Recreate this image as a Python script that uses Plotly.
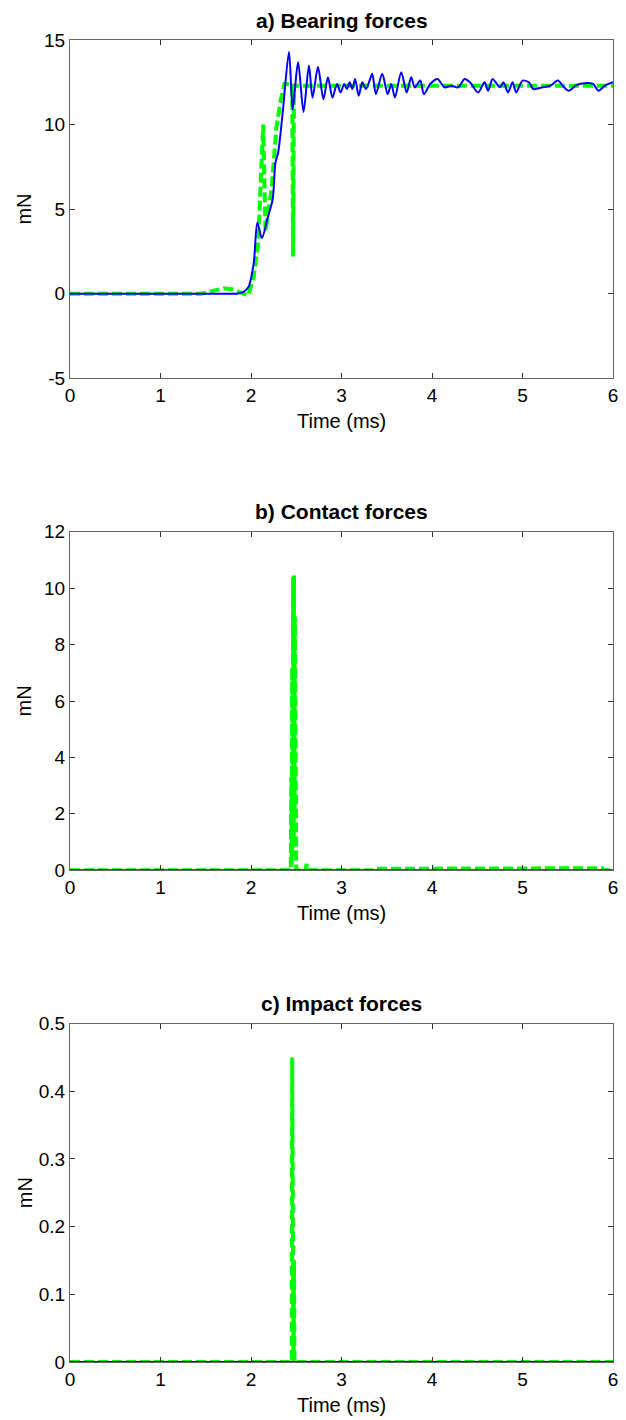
import plotly.graph_objects as go

# ---------------- data ----------------
# a) Bearing forces
bear_blue_t = [0, 0.5, 1.0, 1.5, 1.75, 1.86, 1.92, 1.97, 2.03, 2.07, 2.12, 2.19, 2.24, 2.27, 2.30,
               2.35, 2.42, 2.46, 2.52,
               2.58, 2.64, 2.68, 2.74, 2.80, 2.85, 2.90, 2.95, 2.99, 3.03, 3.06, 3.09, 3.12,
               3.15, 3.19, 3.23, 3.27, 3.31, 3.34, 3.38, 3.45, 3.51, 3.55, 3.59, 3.66, 3.72,
               3.77, 3.81, 3.87, 3.91, 3.98, 4.06, 4.14, 4.21, 4.29, 4.36, 4.42, 4.51, 4.58,
               4.62, 4.67, 4.75, 4.79, 4.84, 4.89, 4.93, 5.00, 5.07, 5.12, 5.22, 5.31, 5.39,
               5.46, 5.51, 5.60, 5.69, 5.78, 5.84, 5.91, 6.0]
bear_blue_v = [0, 0, 0, 0, 0, 0.02, 0.12, 0.38, 1.8, 4.2, 3.3, 4.6, 5.6, 7.75, 8.35,
               10.7, 14.3, 10.9, 13.7,
               10.75, 13.5, 11.6, 13.4, 11.5, 12.8, 11.6, 12.4, 11.9, 12.4, 12.1, 12.5, 12.1,
               12.7, 11.7, 12.5, 12.1, 12.6, 13.0, 11.8, 13.0, 11.8, 12.4, 11.6, 13.1, 11.9,
               12.8, 12.2, 12.6, 11.8, 12.4, 12.7, 12.2, 12.3, 12.2, 12.7, 12.5, 11.9, 12.5,
               12.0, 12.7, 12.2, 12.5, 11.9, 12.5, 11.9, 12.6, 12.5, 12.1, 12.2, 12.3, 12.6,
               12.2, 12.0, 12.35, 12.45, 12.4, 12.0, 12.3, 12.5]
bear_green_t = [0, 1.45, 1.6, 1.7, 1.8, 1.9, 1.97, 2.03, 2.08, 2.11, 2.135, 2.16, 2.23,
                2.28, 2.33, 2.37, 2.40, 2.455, 2.465, 2.475, 2.49, 6.0]
bear_green_v = [0, 0, 0.2, 0.32, 0.25, 0.05, -0.1, 1.0, 3.0, 7.0, 10.0, 3.7, 6.3,
                9.8, 11.5, 12.4, 12.4, 12.3, 2.2, 12.3, 12.3, 12.3]

# b) Contact forces
cont_blue_t = [0, 6]
cont_blue_v = [0, 0]
cont_green_t = [0, 2.44, 2.445, 2.45, 2.455, 2.46, 2.465, 2.47, 2.475, 2.48, 2.485, 2.49,
                2.495, 2.50, 2.60, 2.605, 2.615, 2.62, 3.35, 3.36, 4.15, 4.16, 5.88, 5.89, 6.0]
cont_green_v = [0, 0, 3.3, 0.2, 7.2, 0.5, 10.4, 1.0, 10.45, 2.0, 9.0, 0.5,
                3.3, 0, 0, 0.22, 0.22, 0, 0, 0.05, 0.05, 0.07, 0.07, 0, 0]

# c) Impact forces
imp_blue_t = [0, 6]
imp_blue_v = [0, 0]
imp_green_t = [0, 2.45, 2.455, 2.46, 2.465, 2.47, 2.475, 2.48, 6.0]
imp_green_v = [0, 0, 0.45, 0.05, 0.26, 0.0, 0.15, 0, 0]

titles = ["a) Bearing forces", "b) Contact forces", "c) Impact forces"]
y_tick_vals = [[-5, 0, 5, 10, 15], [0, 2, 4, 6, 8, 10, 12], [0, 0.1, 0.2, 0.3, 0.4, 0.5]]
y_tick_text = [["-5", "0", "5", "10", "15"], ["0", "2", "4", "6", "8", "10", "12"],
               ["0", "0.1", "0.2", "0.3", "0.4", "0.5"]]
y_ranges = [[-5, 15], [0, 12], [0, 0.5]]
x_tick_vals = [0, 1, 2, 3, 4, 5, 6]

# ---------------- figure ----------------
W, H = 626, 1420
L, R, T, B = 70, 8, 39.5, 58
plot_h = H - T - B
panel_px = 338.5
gap_px = (plot_h - 3 * panel_px) / 2

domains = []
for i in range(3):
    top_px = i * (panel_px + gap_px)
    bot_px = top_px + panel_px
    domains.append([1 - bot_px / plot_h, 1 - top_px / plot_h])

BLUE = "#0000ff"
GREEN = "#00ff00"
FONT = "Liberation Sans, Arial, sans-serif"

fig = go.Figure()
series = [
    (bear_green_t, bear_green_v, bear_blue_t, bear_blue_v, "spline"),
    (cont_green_t, cont_green_v, cont_blue_t, cont_blue_v, "linear"),
    (imp_green_t, imp_green_v, imp_blue_t, imp_blue_v, "linear"),
]
for i, (gt, gv, bt, bv, shp) in enumerate(series):
    xa = "x" if i == 0 else f"x{i+1}"
    ya = "y" if i == 0 else f"y{i+1}"
    fig.add_trace(go.Scatter(x=gt, y=gv, mode="lines", xaxis=xa, yaxis=ya,
                             line=dict(color=GREEN, width=4, dash="10px,4px"),
                             showlegend=False, hoverinfo="skip"))
    fig.add_trace(go.Scatter(x=bt, y=bv, mode="lines", xaxis=xa, yaxis=ya,
                             line=dict(color=BLUE, width=2, shape=shp, smoothing=0.8),
                             showlegend=False, hoverinfo="skip"))

axis_common = dict(showline=True, mirror="ticks", linecolor="#666666", linewidth=1,
                   ticks="inside", ticklen=5, tickcolor="#333333", showgrid=False,
                   zeroline=False, tickfont=dict(family=FONT, size=19, color="#000000"))
layout = dict(width=W, height=H, margin=dict(l=L, r=R, t=T, b=B),
              paper_bgcolor="white", plot_bgcolor="white", showlegend=False)
for i in range(3):
    xk = "xaxis" if i == 0 else f"xaxis{i+1}"
    yk = "yaxis" if i == 0 else f"yaxis{i+1}"
    anchor_y = "y" if i == 0 else f"y{i+1}"
    anchor_x = "x" if i == 0 else f"x{i+1}"
    layout[xk] = dict(axis_common, domain=[0, 1], anchor=anchor_y, range=[0, 6],
                      tickvals=x_tick_vals)
    layout[yk] = dict(axis_common, domain=domains[i], anchor=anchor_x,
                      range=y_ranges[i], tickvals=y_tick_vals[i], ticktext=y_tick_text[i])
fig.update_layout(**layout)

annots = []
for i in range(3):
    d0, d1 = domains[i]
    annots.append(dict(text="<b>%s</b>" % titles[i], xref="paper", yref="paper",
                       x=0.5, y=d1 + 20 / plot_h, xanchor="center", yanchor="middle",
                       showarrow=False, font=dict(family=FONT, size=21, color="#000")))
    annots.append(dict(text="Time (ms)", xref="paper", yref="paper",
                       x=0.5, y=d0 - 43 / plot_h, xanchor="center", yanchor="middle",
                       showarrow=False, font=dict(family=FONT, size=20, color="#000")))
    annots.append(dict(text="mN", xref="paper", yref="paper",
                       x=(24 - L) / (W - L - R), y=(d0 + d1) / 2, xanchor="center",
                       yanchor="middle", textangle=-90, showarrow=False,
                       font=dict(family=FONT, size=20, color="#000")))
fig.update_layout(annotations=annots)

fig.write_html("out.html", config={"displayModeBar": False},
               post_script="document.body.style.margin='0px';")
